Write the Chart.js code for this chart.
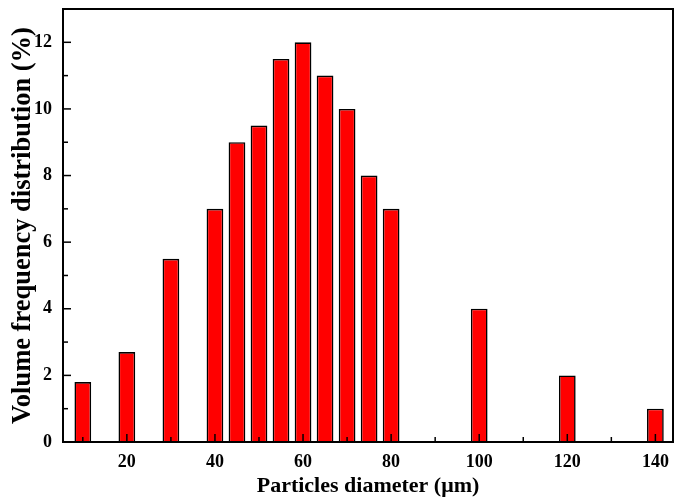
<!DOCTYPE html>
<html>
<head>
<meta charset="utf-8">
<script src="https://cdn.jsdelivr.net/npm/chart.js@4/dist/chart.umd.min.js"></script>
<style>
  html, body { margin: 0; padding: 0; background: #fff; }
  #wrap { width: 674px; height: 500px; }
</style>
</head>
<body>
<div id="wrap"><canvas id="chart" width="674" height="500"></canvas></div>
<script>
// --- datos ---
const diameters = [10, 20, 30, 40, 45, 50, 55, 60, 65, 70, 75, 80, 100, 120, 140];
const frequencies = [1.8, 2.7, 5.5, 7, 9, 9.5, 11.5, 12, 11, 10, 8, 7, 4, 2, 1];
const xMajorTicks = [20, 40, 60, 80, 100, 120, 140];
const xMinorTicks = [10, 30, 50, 70, 90, 110, 130];
const yMajorTicks = [0, 2, 4, 6, 8, 10, 12];
const yMinorTicks = [1, 3, 5, 7, 9, 11];

const FONT = "'Liberation Serif', 'Times New Roman', serif";

// marco y ticks hacia dentro
const frameTicks = {
    id: 'frameTicks',
    afterDraw(chart) {
        const { ctx, chartArea: a, scales } = chart;
        ctx.save();
        ctx.strokeStyle = '#000';
        ctx.lineWidth = 1.5;
        const tick = (scale, vals, len, horiz) => {
            vals.forEach(v => {
                const p = scale.getPixelForValue(v);
                ctx.beginPath();
                if (horiz) { ctx.moveTo(p, a.bottom); ctx.lineTo(p, a.bottom - len); }
                else { ctx.moveTo(a.left, p); ctx.lineTo(a.left + len, p); }
                ctx.stroke();
            });
        };
        tick(scales.x, xMajorTicks, 8, true);
        tick(scales.x, xMinorTicks, 5, true);
        tick(scales.y, yMajorTicks, 8, false);
        tick(scales.y, yMinorTicks, 5, false);
        ctx.lineWidth = 2;
        ctx.strokeRect(a.left, a.top, a.right - a.left, a.bottom - a.top);
        ctx.restore();
    }
};

new Chart(document.getElementById('chart'), {
    type: 'bar',
    data: {
        datasets: [{
            data: diameters.map((d, i) => ({ x: d, y: frequencies[i] })),
            backgroundColor: '#ff0000',
            borderColor: '#000',
            borderWidth: 1.6,
            barPercentage: 0.76,
            categoryPercentage: 1
        }]
    },
    options: {
        responsive: false,
        animation: false,
        layout: { padding: { top: 9, right: 1, left: 0, bottom: 0 } },
        plugins: { legend: { display: false }, tooltip: { enabled: false } },
        scales: {
            x: {
                type: 'linear',
                offset: false,
                min: 5.5,
                max: 144,
                grid: { display: false, drawTicks: false, offset: false },
                border: { display: false },
                afterBuildTicks: s => { s.ticks = xMajorTicks.map(v => ({ value: v })); },
                afterFit: s => { s.height = 58; s.paddingLeft = 0; s.paddingRight = 0; },
                ticks: { color: '#000', padding: 10, maxRotation: 0, font: { family: FONT, size: 18, weight: 'bold' } },
                title: { display: true, text: 'Particles diameter (μm)', color: '#000', padding: { top: 2, bottom: 0 },
                    font: { family: FONT, size: 22, weight: 'bold' } }
            },
            y: {
                min: 0,
                max: 13,
                grid: { display: false, drawTicks: false },
                border: { display: false },
                afterBuildTicks: s => { s.ticks = yMajorTicks.map(v => ({ value: v })); },
                afterFit: s => { s.width = 63; s.paddingTop = 0; s.paddingBottom = 0; },
                ticks: { color: '#000', padding: 11, font: { family: FONT, size: 18, weight: 'bold' } },
                title: { display: true, text: 'Volume frequency distribution (%)', color: '#000', padding: { top: 7, bottom: 4 },
                    font: { family: FONT, size: 26.5, weight: 'bold' } }
            }
        }
    },
    plugins: [frameTicks]
});
</script>
</body>
</html>
